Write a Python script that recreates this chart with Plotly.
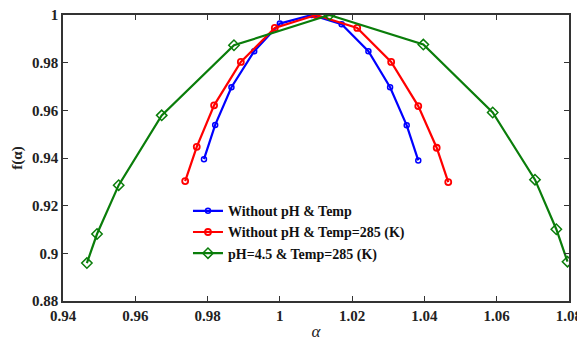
import plotly.graph_objects as go

# Data
blue_x = [0.9790, 0.9821, 0.9866, 0.9929, 1.0000, 1.0088, 1.0171, 1.0245, 1.0305, 1.0351, 1.0383]
blue_y = [0.9395, 0.9539, 0.9697, 0.9848, 0.9964, 1.0000, 0.9961, 0.9848, 0.9697, 0.9537, 0.9390]

red_x = [0.9738, 0.9770, 0.9818, 0.9892, 0.9986, 1.0100, 1.0214, 1.0308, 1.0383, 1.0434, 1.0466]
red_y = [0.9303, 0.9447, 0.9621, 0.9803, 0.9946, 1.0000, 0.9946, 0.9803, 0.9618, 0.9443, 0.9299]

green_x = [0.9466, 0.9494, 0.9554, 0.9673, 0.9873, 1.0137, 1.0397, 1.0589, 1.0706, 1.0765, 1.0796]
green_y = [0.8959, 0.9081, 0.9286, 0.9579, 0.9873, 1.0000, 0.9876, 0.9591, 0.9309, 0.9101, 0.8965]

names = ["Without pH & Temp", "Without pH & Temp=285 (K)", "pH=4.5 & Temp=285 (K)"]

x_ticks = [0.94, 0.96, 0.98, 1.0, 1.02, 1.04, 1.06, 1.08]
x_labels = ["0.94", "0.96", "0.98", "1", "1.02", "1.04", "1.06", "1.08"]
y_ticks = [0.88, 0.90, 0.92, 0.94, 0.96, 0.98, 1.0]
y_labels = ["0.88", "0.9", "0.92", "0.94", "0.96", "0.98", "1"]

font = "Liberation Serif"

fig = go.Figure()
fig.add_trace(go.Scatter(x=blue_x, y=blue_y, mode="lines+markers", name=names[0],
                         line=dict(color="#0000ff", width=2.2),
                         marker=dict(symbol="circle-open", size=5, color="#0000ff", line=dict(width=1.5))))
fig.add_trace(go.Scatter(x=red_x, y=red_y, mode="lines+markers", name=names[1],
                         line=dict(color="#ff0000", width=2.2),
                         marker=dict(symbol="circle-open", size=6, color="#ff0000", line=dict(width=1.8))))
fig.add_trace(go.Scatter(x=green_x, y=green_y, mode="lines+markers", name=names[2],
                         line=dict(color="#0a7d0a", width=2.2),
                         marker=dict(symbol="diamond-open", size=8, color="#0a7d0a", line=dict(width=1.5))))

axis_common = dict(showgrid=False, zeroline=False, showline=True, linecolor="#333333", linewidth=1.5,
                   mirror="ticks", ticks="inside", ticklen=5, tickwidth=1.2, tickcolor="#333333",
                   ticklabeloverflow="allow",
                   tickfont=dict(family=font, size=15, color="#222222", weight="bold"))

fig.update_xaxes(range=[0.93999, 1.08001], tickvals=x_ticks, ticktext=x_labels, automargin=False,
                 title=dict(text="<i>α</i>", font=dict(family=font, size=17, color="#222222"), standoff=14),
                 **axis_common)
fig.update_yaxes(range=[0.87999, 1.00001], tickvals=y_ticks, ticktext=y_labels, automargin=False,
                 title=dict(text="f(α)", font=dict(family=font, size=15, color="#222222", weight="bold"), standoff=6),
                 **axis_common)

fig.update_layout(
    width=585, height=333,
    margin=dict(l=55, r=24, t=7, b=40),
    paper_bgcolor="white", plot_bgcolor="white",
    font=dict(family=font, color="#111111"),
    showlegend=True,
    legend=dict(x=0.247, y=0.37, xanchor="left", yanchor="top", bgcolor="rgba(0,0,0,0)",
                font=dict(family=font, size=14, color="#111111", weight="bold"), tracegroupgap=0,
                itemwidth=30),
)

fig.write_html("out.html")
